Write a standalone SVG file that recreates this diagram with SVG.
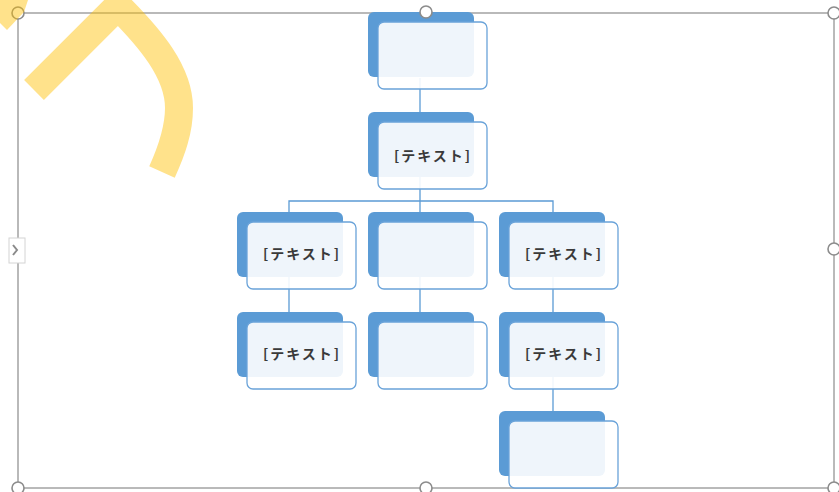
<svg xmlns="http://www.w3.org/2000/svg" width="839" height="492" viewBox="0 0 839 492">
<style>
.bk{fill:#5B9BD5}
.fr{fill:#fff;fill-opacity:0.9;stroke:#6AA3D9;stroke-width:1.3}
.tx{font-family:"Noto Sans CJK JP","Noto Sans",sans-serif;font-size:14px;font-weight:bold;letter-spacing:2px;fill:#3a3a3a;text-anchor:middle}
.cn{stroke:#5B9BD5;stroke-width:1.3;fill:none}
.hd{fill:#fff;stroke:#8c8c8c;stroke-width:1.6}
</style>
<defs>
<g id="box">
<rect class="bk" x="0" y="0" width="106" height="65" rx="6"/>
<rect class="fr" x="10" y="10" width="109" height="67" rx="6"/>
</g>
</defs>
<rect width="839" height="492" fill="#fff"/>
<rect x="18" y="13" width="816" height="475" fill="none" stroke="#a3a3a3" stroke-width="1.5"/>
<g id="connectors">
<path class="cn" d="M420,78 V112"/>
<path class="cn" d="M420,177 V212 M420,201 H289 V212 M420,201 H553 V212"/>
<path class="cn" d="M289,277 V312 M420,277 V312 M553,277 V312"/>
<path class="cn" d="M553,377 V411"/>
</g>
<g id="n1" transform="translate(368,12)"><use href="#box"/></g>
<g id="n2" transform="translate(368,112)"><use href="#box"/><text class="tx" x="65" y="49">[テキスト]</text></g>
<g id="n3" transform="translate(237,212)"><use href="#box"/><text class="tx" x="65" y="47">[テキスト]</text></g>
<g id="n4" transform="translate(368,212)"><use href="#box"/></g>
<g id="n5" transform="translate(499,212)"><use href="#box"/><text class="tx" x="65" y="47">[テキスト]</text></g>
<g id="n6" transform="translate(237,312)"><use href="#box"/><text class="tx" x="65" y="47">[テキスト]</text></g>
<g id="n7" transform="translate(368,312)"><use href="#box"/></g>
<g id="n8" transform="translate(499,312)"><use href="#box"/><text class="tx" x="65" y="47">[テキスト]</text></g>
<g id="n9" transform="translate(499,411)"><use href="#box"/></g>
<g id="frame-handles">
<rect x="9" y="238" width="16" height="25" fill="#fff" stroke="#d4d4d4" stroke-width="1"/>
<path d="M13,245 L17,250 L13,255" fill="none" stroke="#8a8a8a" stroke-width="2"/>
<circle class="hd" cx="18" cy="13" r="6"/>
<circle class="hd" cx="426" cy="12" r="6"/>
<circle class="hd" cx="834" cy="13" r="6"/>
<circle class="hd" cx="834" cy="249" r="6"/>
<circle class="hd" cx="18" cy="488" r="6"/>
<circle class="hd" cx="426" cy="488" r="6"/>
<circle class="hd" cx="834" cy="488" r="6"/>
</g>
<g id="yellow" opacity="0.45">
<path d="M34,90 L118,6 C150,38 179,72 179,108 C179,130 172,150 162,172" fill="none" stroke="#FFC000" stroke-width="28" stroke-linejoin="miter"/>
<polygon points="0,0 28,0 24,12 7,30 0,23" fill="#FFC000"/>
</g>
</svg>
